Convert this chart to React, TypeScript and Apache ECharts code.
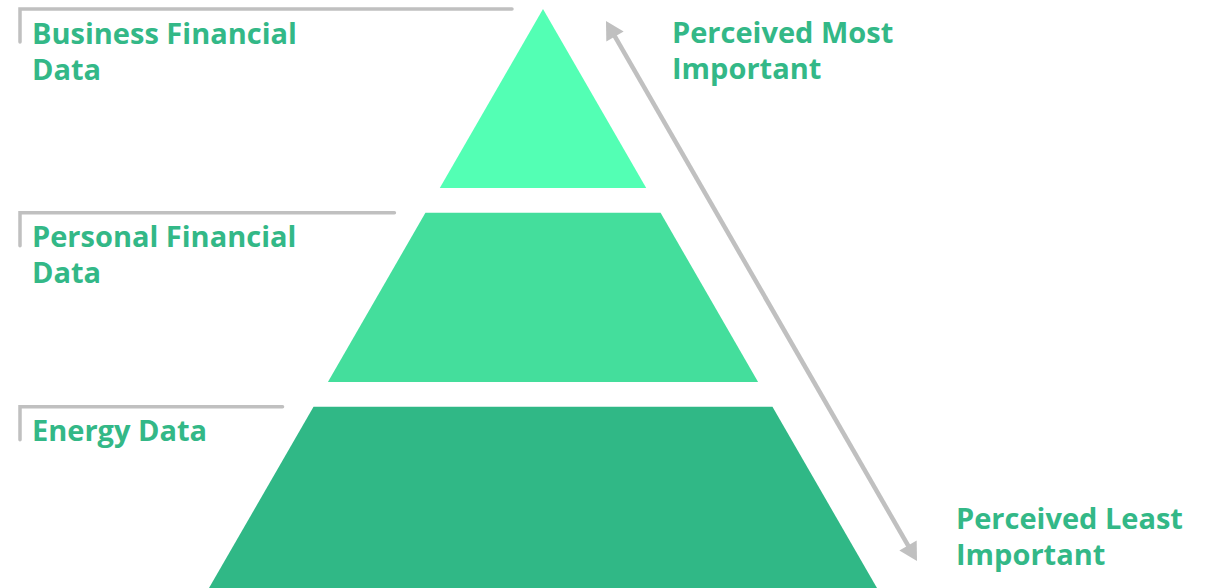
import React, { useEffect, useRef } from "react";
import * as echarts from "echarts";

// Pyramid tiers, from the apex (depth 0) down to the base (depth 100)
const tierNames = ["Business Financial\nData", "Personal Financial\nData", "Energy Data"];
const tierStart = [0, 35.2, 68.7];
const tierEnd = [30.9, 64.4, 100];
const tierColors = ["#53FFB4", "#44DE9C", "#30B886"];
const arrowLabels = ["Perceived Most\nImportant", "Perceived Least\nImportant"];

const TEXT_COLOR = "#33B887";
const GREY = "#C0C0C0";
const FONT = { fontFamily: "Open Sans", fontWeight: "bold" as const, fontSize: 29, lineHeight: 36 };

export default function App() {
  const ref = useRef<HTMLDivElement>(null);
  useEffect(() => {
    document.body.style.margin = "0";
    const chart = echarts.init(ref.current!, null, { renderer: "svg" });
    const data = tierNames.map((n, i) => ({ name: n, value: [i, tierStart[i], tierEnd[i]] }));
    chart.setOption({
      animation: false,
      grid: { left: 209, top: 9, width: 668, height: 579 },
      xAxis: { type: "value", min: -50, max: 50, show: false },
      yAxis: { type: "value", min: 0, max: 100, inverse: true, show: false },
      series: [
        {
          type: "custom",
          coordinateSystem: "cartesian2d",
          encode: { x: 0, y: 1 },
          data,
          renderItem: (params: any, api: any) => {
            const s = api.value(1);
            const e = api.value(2);
            const pts = [
              api.coord([-s / 2, s]),
              api.coord([s / 2, s]),
              api.coord([e / 2, e]),
              api.coord([-e / 2, e]),
            ];
            return {
              type: "polygon",
              shape: { points: pts },
              style: { fill: tierColors[params.dataIndex] },
            };
          },
        },
      ],
    });

    // Annotations: brackets + labels at tier tops, and the importance arrow
    const graphics: any[] = [];
    tierNames.forEach((name, i) => {
      const [tx, ty] = chart.convertToPixel({ gridIndex: 0 }, [-tierStart[i] / 2, tierStart[i]]);
      const xEnd = tx - 31;
      graphics.push({
        type: "polyline",
        shape: { points: [[20, ty + 33], [20, ty], [xEnd, ty]] },
        style: { stroke: GREY, lineWidth: 3.5, fill: null, lineCap: "round", lineJoin: "miter" },
      });
      graphics.push({
        type: "text",
        x: 32,
        y: ty + 5,
        style: { text: name, fill: TEXT_COLOR, ...FONT, verticalAlign: "top", align: "left" },
      });
    });

    const a0 = [606, 21];
    const a1 = [917, 561];
    const dx = a1[0] - a0[0];
    const dy = a1[1] - a0[1];
    const len = Math.sqrt(dx * dx + dy * dy);
    const ux = dx / len, uy = dy / len;
    const nx = uy, ny = -ux;
    const hl = 18, hw = 10;
    graphics.push({
      type: "line",
      shape: { x1: a0[0] + ux * (hl - 2), y1: a0[1] + uy * (hl - 2), x2: a1[0] - ux * (hl - 2), y2: a1[1] - uy * (hl - 2) },
      style: { stroke: GREY, lineWidth: 4.5 },
    });
    const head = (tip: number[], dir: number) => {
      const cx = tip[0] + dir * ux * hl;
      const cy = tip[1] + dir * uy * hl;
      return {
        type: "polygon",
        shape: { points: [tip, [cx + nx * hw, cy + ny * hw], [cx - nx * hw, cy - ny * hw]] },
        style: { fill: GREY },
      };
    };
    graphics.push(head(a0, 1));
    graphics.push(head(a1, -1));

    graphics.push({
      type: "text",
      x: 672,
      y: 13.5,
      style: { text: arrowLabels[0], fill: TEXT_COLOR, ...FONT, verticalAlign: "top", align: "left" },
    });
    graphics.push({
      type: "text",
      x: 956,
      y: 499.5,
      style: { text: arrowLabels[1], fill: TEXT_COLOR, ...FONT, verticalAlign: "top", align: "left" },
    });

    chart.setOption({ graphic: graphics });
    return () => chart.dispose();
  }, []);
  return <div ref={ref} style={{ width: 1211, height: 588 }} />;
}
